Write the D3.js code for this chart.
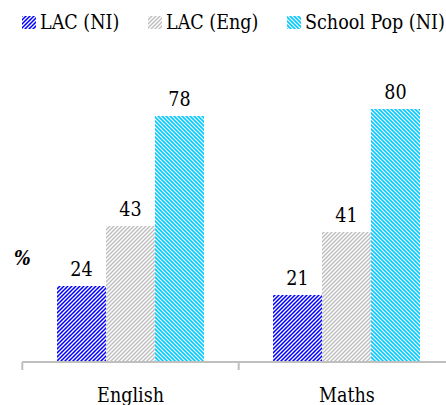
<!DOCTYPE html>
<html>
<head>
<meta charset="utf-8">
<script src="https://cdn.jsdelivr.net/npm/d3@7"></script>
<style>
  html, body { margin: 0; padding: 0; background: #fff; }
  svg { display: block; }
  text { font-stretch: condensed; }
</style>
</head>
<body>
<div id="chart"></div>
<script>
const categories = ["English", "Maths"];
const seriesNames = ["LAC (NI)", "LAC (Eng)", "School Pop (NI)"];
const lacNI = [24, 21];
const lacEng = [43, 41];
const schoolPopNI = [78, 80];
const seriesValues = [lacNI, lacEng, schoolPopNI];

const FONT = "DejaVu Serif";
const FS = 19.5;
const W = 446, H = 405;
const svg = d3.select("#chart").append("svg").attr("width", W).attr("height", H)
  .attr("font-family", FONT);
const defs = svg.append("defs");

// diagonal hatch pattern: dir 1 = "/", dir -1 = "\"
function makeHatch(id, bg, fg, dir, sw) {
  const p = defs.append("pattern").attr("id", id)
    .attr("patternUnits", "userSpaceOnUse").attr("width", 4).attr("height", 4);
  p.append("rect").attr("width", 4).attr("height", 4).attr("fill", bg);
  const d = dir > 0
    ? "M-1,1 L1,-1 M0,4 L4,0 M3,5 L5,3"
    : "M-1,3 L1,5 M0,0 L4,4 M3,-1 L5,1";
  p.append("path").attr("d", d).attr("stroke", fg).attr("stroke-width", sw);
}
makeHatch("pNI", "#0000FF", "#FFFFFF", 1, 1.3);
makeHatch("pEng", "#FFFFFF", "#BFBFBF", 1, 1.5);
makeHatch("pPop", "#00CCFF", "#FFFFFF", -1, 1.2);
const fills = ["url(#pNI)", "url(#pEng)", "url(#pPop)"];

const x0 = d3.scaleBand().domain(categories).range([22.3, 455.1]).paddingInner(0).paddingOuter(0);
const x1 = d3.scaleBand().domain(seriesNames).range([0, x0.bandwidth()]).paddingInner(0).paddingOuter(0.71);
const y = d3.scaleLinear().domain([0, 100]).range([361, 46.5]);

categories.forEach((c, ci) => {
  seriesNames.forEach((s, si) => {
    const v = seriesValues[si][ci];
    const bx = Math.round(x0(c) + x1(s));
    const bx2 = Math.round(x0(c) + x1(s) + x1.bandwidth());
    const by = Math.round(y(v));
    svg.append("rect")
      .attr("x", bx).attr("y", by)
      .attr("width", bx2 - bx).attr("height", Math.round(y(0)) - by)
      .attr("fill", fills[si]).attr("shape-rendering", "crispEdges");
    svg.append("text")
      .attr("x", (bx + bx2) / 2).attr("y", y(v) - 10)
      .attr("text-anchor", "middle").attr("font-size", FS)
      .text(v);
  });
});

const axisY = 362;
const ax = svg.append("g").attr("transform", `translate(0,${axisY})`);
ax.append("line").attr("x1", x0.range()[0]).attr("x2", x0.range()[1])
  .attr("y1", 0).attr("y2", 0).attr("stroke", "#BFBFBF").attr("stroke-width", 2);
const boundaries = categories.map(c => x0(c)).concat([x0.range()[1]]);
ax.selectAll("line.tick").data(boundaries).join("line").attr("class", "tick")
  .attr("x1", d => d).attr("x2", d => d).attr("y1", 0).attr("y2", 8)
  .attr("stroke", "#BFBFBF").attr("stroke-width", 2);
const labelAxis = d3.axisBottom(x0).tickSize(0).tickPadding(0);
const la = svg.append("g").attr("transform", `translate(0,${axisY})`).call(labelAxis)
  .attr("font-family", FONT).attr("font-size", FS);
la.select(".domain").remove();
la.selectAll("text").attr("dy", null).attr("y", 39.5).attr("fill", "#000");

svg.append("text").attr("x", 14).attr("y", 265).attr("font-size", FS)
  .attr("font-style", "italic").attr("font-weight", "bold").text("%");

const legendX = [22, 148, 287];
seriesNames.forEach((s, i) => {
  svg.append("rect").attr("x", legendX[i]).attr("y", 16).attr("width", 14).attr("height", 13)
    .attr("fill", fills[i]).attr("shape-rendering", "crispEdges");
  svg.append("text").attr("x", legendX[i] + 18).attr("y", 29).attr("font-size", FS)
    .text(s);
});
</script>
</body>
</html>
